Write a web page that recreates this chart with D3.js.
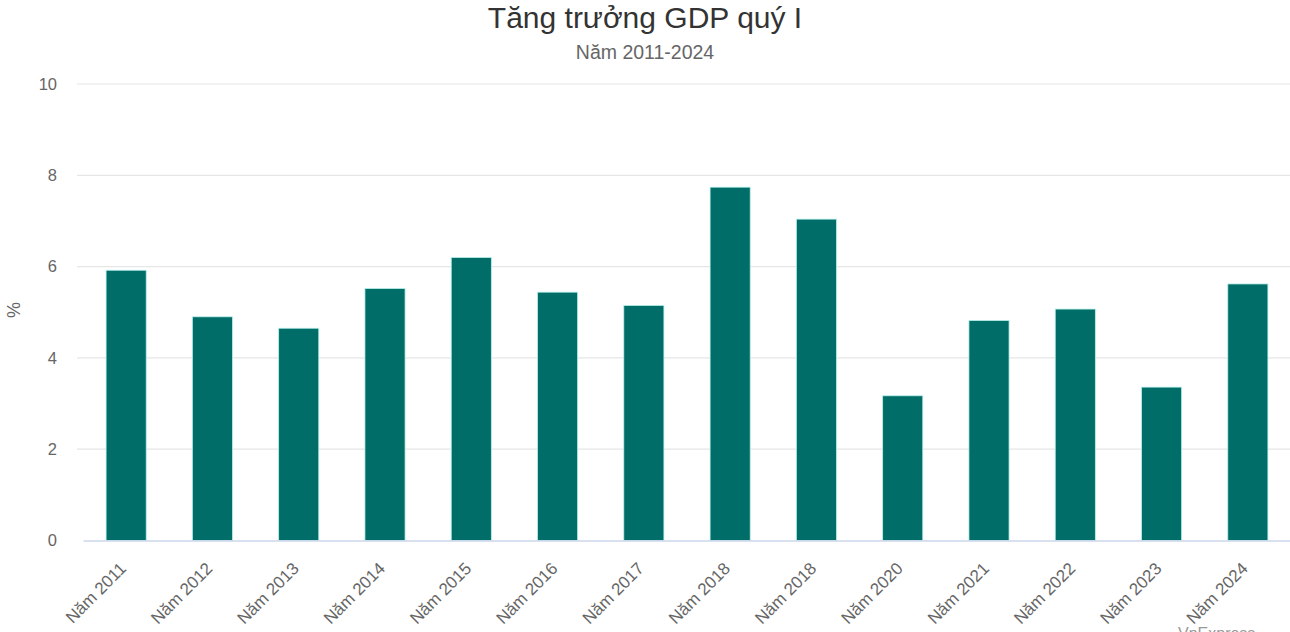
<!DOCTYPE html>
<html>
<head>
<meta charset="utf-8">
<script src="https://cdn.jsdelivr.net/npm/d3@7"></script>
<style>
  html, body { margin: 0; padding: 0; background: #ffffff; overflow: hidden; }
  #chart { width: 1290px; height: 632px; }
  text { font-family: "Liberation Sans", Arial, sans-serif; }
</style>
</head>
<body>
<div id="chart"></div>
<script>
(function () {
  ///////////////////////////////////////////////////////////// ! Data
  const categories = [
    "Năm 2011", "Năm 2012", "Năm 2013", "Năm 2014", "Năm 2015",
    "Năm 2016", "Năm 2017", "Năm 2018", "Năm 2018", "Năm 2020",
    "Năm 2021", "Năm 2022", "Năm 2023", "Năm 2024",
  ];
  const growth = [5.92, 4.9, 4.65, 5.52, 6.2, 5.44, 5.15, 7.74, 7.04, 3.17, 4.82, 5.07, 3.36, 5.62];
  const yTicks = [0, 2, 4, 6, 8, 10];

  const titleText = "Tăng trưởng GDP quý I";
  const subtitleText = "Năm 2011-2024";
  const yAxisTitle = "%";
  const creditText = "VnExpress";

  ///////////////////////////////////////////////////////////// ! Setup
  const fullWidth = 1290;
  const fullHeight = 632;
  const margin = { top: 84, right: -1, bottom: 91.5, left: 83 };
  const width = fullWidth - margin.left - margin.right;
  const height = fullHeight - margin.top - margin.bottom;

  const root = d3
    .select("#chart")
    .append("svg")
    .attr("width", fullWidth)
    .attr("height", fullHeight)
    .style("display", "block");

  const svg = root
    .append("g")
    .attr("transform", `translate(${margin.left},${margin.top})`);

  // Use index as band key because the labels contain a duplicate
  const idx = categories.map((d, i) => i);

  ///////////////////////////////////////////////////////////// ! Scales
  const xScale = d3
    .scaleBand()
    .domain(idx)
    .range([0, width])
    .paddingInner(0.535)
    .paddingOuter(0.2675);

  const yScale = d3.scaleLinear().domain([0, 10]).range([height, 0]);

  ///////////////////////////////////////////////////////////// ! Grid
  svg
    .append("g")
    .attr("class", "grid")
    .selectAll("line")
    .data(yTicks.filter((d) => d !== 0))
    .enter()
    .append("line")
    .attr("x1", -6)
    .attr("x2", width)
    .attr("y1", (d) => yScale(d))
    .attr("y2", (d) => yScale(d))
    .style("stroke", "#e6e6e6")
    .style("stroke-width", 1.2);

  ///////////////////////////////////////////////////////////// ! Bars
  svg
    .selectAll("rect.bar")
    .data(growth)
    .enter()
    .append("rect")
    .attr("class", "bar")
    .attr("x", (d, i) => xScale(i))
    .attr("width", xScale.bandwidth())
    .attr("y", (d) => yScale(d))
    .attr("height", (d) => height - yScale(d))
    .style("fill", "#006d68")
    .style("stroke", "#b8f0ec")
    .style("stroke-width", 0.8);

  ///////////////////////////////////////////////////////////// ! Axes
  const yAxis = svg
    .append("g")
    .attr("class", "y-axis")
    .call(d3.axisLeft(yScale).tickValues(yTicks).tickSize(0).tickPadding(26));
  yAxis.select(".domain").remove();
  yAxis
    .selectAll("text")
    .style("font-size", "16.5px")
    .style("fill", "#666666");

  const xAxis = svg
    .append("g")
    .attr("class", "x-axis")
    .attr("transform", `translate(0,${height})`)
    .call(
      d3
        .axisBottom(xScale)
        .tickSize(0)
        .tickFormat((i) => categories[i])
    );
  xAxis
    .select(".domain")
    .style("stroke", "#ccd6eb")
    .style("stroke-width", 1.5);
  xAxis
    .selectAll("text")
    .style("font-size", "17px")
    .style("fill", "#666666")
    .style("text-anchor", "end")
    .attr("dy", 0)
    .attr("transform", "translate(-1,27) rotate(-45)");

  // Y axis label
  svg
    .append("text")
    .attr("transform", "rotate(-90)")
    .attr("x", -226)
    .attr("y", -margin.left + 20)
    .style("text-anchor", "middle")
    .style("font-size", "18px")
    .style("fill", "#666666")
    .text(yAxisTitle);

  ///////////////////////////////////////////////////////////// ! Titles
  root
    .append("text")
    .attr("x", 645)
    .attr("y", 28)
    .style("text-anchor", "middle")
    .style("font-size", "30px")
    .style("fill", "#333333")
    .text(titleText);

  root
    .append("text")
    .attr("x", 645)
    .attr("y", 59)
    .style("text-anchor", "middle")
    .style("font-size", "19.5px")
    .style("fill", "#666666")
    .text(subtitleText);

  // Credit, mostly cut off by the bottom edge (as in the source)
  root
    .append("text")
    .attr("x", 1178)
    .attr("y", 639)
    .style("font-size", "16px")
    .style("fill", "#999999")
    .text(creditText);
})();
</script>
</body>
</html>
